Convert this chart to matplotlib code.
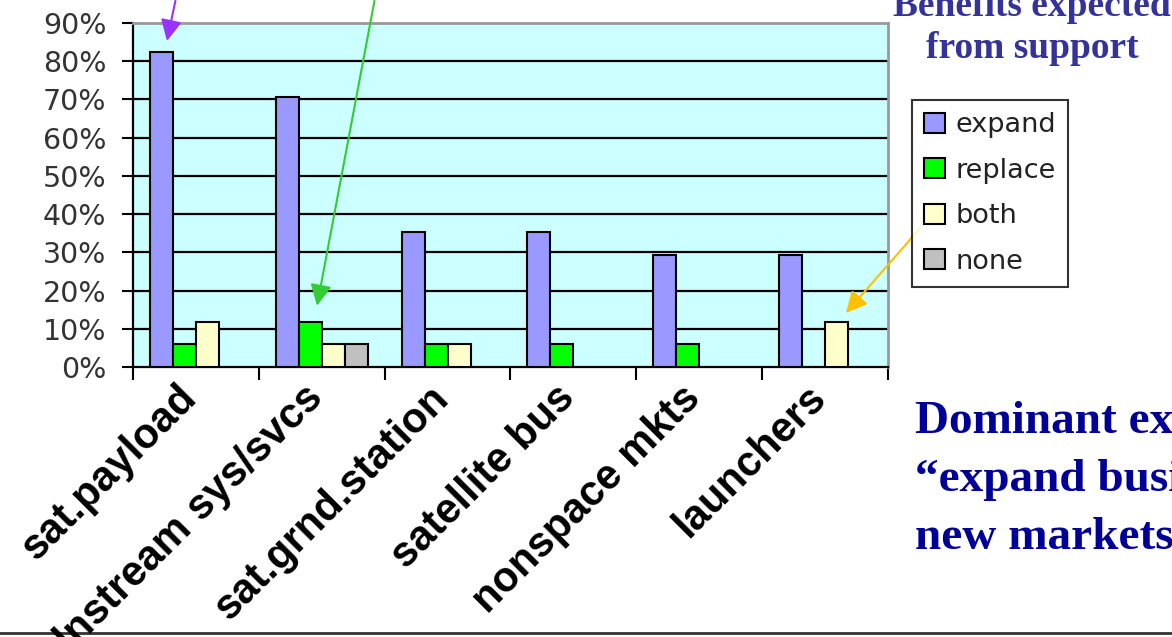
import matplotlib.pyplot as plt
import numpy as np
from matplotlib.lines import Line2D
import matplotlib.transforms as mtransforms

categories = ['sat.payload', 'dnstream sys/svcs', 'sat.grnd.station',
              'satellite bus', 'nonspace mkts', 'launchers']
series = ['expand', 'replace', 'both', 'none']
expand = [82.4, 70.6, 35.3, 35.3, 29.4, 29.4]
replace = [5.9, 11.8, 5.9, 5.9, 5.9, 0.0]
both = [11.8, 5.9, 5.9, 0.0, 0.0, 11.8]
none = [0.0, 5.9, 0.0, 0.0, 0.0, 0.0]
yticks = [0, 10, 20, 30, 40, 50, 60, 70, 80, 90]

colors = ['#9999FF', '#00FF00', '#FFFFCC', '#C0C0C0']

W, H = 1172, 637
fig = plt.figure(figsize=(W / 100, H / 100), dpi=100)
ax = fig.add_axes([133 / W, 1 - 367 / H, 755 / W, 344 / H])
ax.set_facecolor('#CCFFFF')

x = np.arange(len(categories))
w = 0.183
values = [expand, replace, both, none]
for i, (name, vals) in enumerate(zip(series, values)):
    v = np.array(vals)
    ax.bar((x - 1.5 * w + i * w)[v > 0], v[v > 0], width=w, color=colors[i],
           edgecolor='black', linewidth=1.5, label=name, zorder=3)

ax.set_xlim(-0.5, len(categories) - 0.5)
ax.set_ylim(0, 90)
ax.set_yticks(yticks)
ax.set_yticklabels([f'{t}%' for t in yticks], fontsize=20.5, color='#333333',
                   family='DejaVu Sans')
for t in yticks[1:-1]:
    ax.axhline(t, color='black', lw=1.6, zorder=1)

ax.set_xticks(x)
ax.set_xticklabels(categories, rotation=45, ha='right', va='center',
                   rotation_mode='anchor', fontsize=30, fontweight='bold',
                   family='Liberation Sans')
ax.tick_params(axis='x', which='major', length=0, pad=18)
# nudge the labels a little to the left
shift = mtransforms.ScaledTranslation(-5 / 100, 0, fig.dpi_scale_trans)
for lab in ax.get_xticklabels():
    lab.set_transform(lab.get_transform() + shift)
ax.set_xticks(np.arange(-0.5, len(categories)), minor=True)
ax.tick_params(axis='x', which='minor', length=9, width=1.5, color='black',
               direction='out')
ax.tick_params(axis='y', length=8, width=1.5, direction='out', pad=11)

for s in ['left', 'bottom']:
    ax.spines[s].set_color('black')
    ax.spines[s].set_linewidth(1.6)
for s in ['top', 'right']:
    ax.spines[s].set_color('#999999')
    ax.spines[s].set_linewidth(2)

leg = fig.legend(loc='upper left', bbox_to_anchor=(912 / W, 1 - 100 / H),
                 frameon=True, fancybox=False, edgecolor='black',
                 handlelength=0.75, handleheight=0.75, handletextpad=0.4,
                 labelspacing=0.72, borderpad=0.45, borderaxespad=0,
                 prop={'family': 'DejaVu Sans', 'size': 19.5})
leg.get_frame().set_linewidth(1.5)
for txt in leg.get_texts():
    txt.set_color('#222222')

# annotation arrows
ax.annotate('', xy=(x[0] - 1.5 * w + 0.04, expand[0] + 2.2), xycoords='data',
            xytext=(176, H + 2), textcoords='figure pixels',
            arrowprops=dict(arrowstyle='-|>', color='#9933FF', lw=1.5,
                            mutation_scale=32), annotation_clip=False)
ax.annotate('', xy=(x[1] - 0.5 * w + 0.05, replace[1] + 3.5), xycoords='data',
            xytext=(375, H + 2), textcoords='figure pixels',
            arrowprops=dict(arrowstyle='-|>', color='#33CC33', lw=1.5,
                            mutation_scale=32), annotation_clip=False)
ax.annotate('', xy=(x[5] + 0.5 * w + 0.06, both[5] + 1.8), xycoords='data',
            xytext=(922, H - 226), textcoords='figure pixels',
            arrowprops=dict(arrowstyle='-|>', color='#FFC000', lw=1.5,
                            mutation_scale=32), annotation_clip=False)

title_lines = ['Benefits expected', 'from support']
for k, line in enumerate(title_lines):
    fig.text(1032 / W, 1 - (16 + 42 * k) / H, line, ha='center', va='baseline',
             fontsize=27, fontweight='bold', color='#333399',
             family='Liberation Serif')

note_lines = ['Dominant expectation:', '\u201cexpand business into',
              'new markets\u201d']
for k, line in enumerate(note_lines):
    fig.text(915 / W, 1 - (433 + 58 * k) / H, line, ha='left', va='baseline',
             fontsize=34, fontweight='bold', color='#000099',
             family='Liberation Serif')

fig.add_artist(Line2D([0, 1], [4 / H, 4 / H], color='#333333', lw=2,
                      zorder=0))

fig.savefig('out.png', dpi=100)
